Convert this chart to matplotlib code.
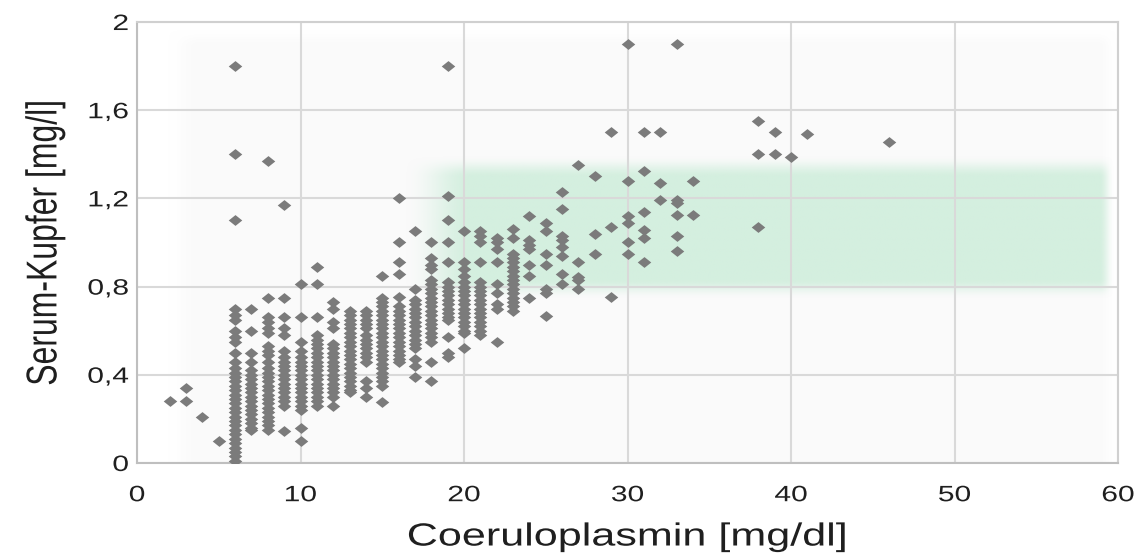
import numpy as np
import matplotlib
matplotlib.use("Agg")
import matplotlib.pyplot as plt
from matplotlib.patheffects import AbstractPathEffect
from matplotlib.transforms import Affine2D

plt.rcParams['font.family'] = ['Liberation Sans', 'DejaVu Sans']

# Serum-Kupfer [mg/l] values per Coeruloplasmin column [mg/dl]
y_at_2 = [0.28]
y_at_3 = [0.34, 0.28]
y_at_4 = [0.21]
y_at_5 = [0.10]
y_at_6 = [1.80, 1.40, 1.10, 0.70, 0.67, 0.65, 0.60, 0.57, 0.55, 0.50, 0.46,
          0.43, 0.41, 0.39, 0.37, 0.35, 0.33, 0.31, 0.29, 0.27, 0.25, 0.23,
          0.21, 0.19, 0.17, 0.15, 0.13, 0.11, 0.09, 0.07, 0.05, 0.03, 0.01]
y_at_7 = [0.70, 0.60, 0.50, 0.46, 0.42, 0.40, 0.38, 0.36, 0.34, 0.32, 0.30,
          0.28, 0.26, 0.24, 0.22, 0.20, 0.18, 0.16, 0.15]
y_at_8 = [1.37, 0.75, 0.66, 0.64, 0.61, 0.59, 0.53, 0.51, 0.49, 0.46, 0.43,
          0.41, 0.39, 0.37, 0.35, 0.33, 0.31, 0.29, 0.27, 0.25, 0.23, 0.21,
          0.19, 0.17, 0.15]
y_at_9 = [1.17, 0.75, 0.66, 0.61, 0.58, 0.51, 0.48, 0.46, 0.44, 0.42, 0.40,
          0.38, 0.36, 0.34, 0.32, 0.30, 0.28, 0.26, 0.145]
y_at_10 = [0.81, 0.66, 0.55, 0.51, 0.48, 0.46, 0.44, 0.42, 0.40, 0.38, 0.36,
           0.34, 0.32, 0.30, 0.28, 0.26, 0.24, 0.16, 0.10]
y_at_11 = [0.89, 0.81, 0.66, 0.58, 0.56, 0.54, 0.52, 0.50, 0.48, 0.46, 0.44,
           0.42, 0.40, 0.38, 0.36, 0.34, 0.32, 0.30, 0.28, 0.26]
y_at_12 = [0.73, 0.70, 0.64, 0.61, 0.54, 0.52, 0.50, 0.48, 0.46, 0.44, 0.42,
           0.40, 0.38, 0.36, 0.34, 0.32, 0.30, 0.26]
y_at_13 = [0.69, 0.67, 0.65, 0.63, 0.61, 0.59, 0.57, 0.55, 0.53, 0.51, 0.49,
           0.47, 0.45, 0.43, 0.41, 0.39, 0.37, 0.35, 0.33, 0.32]
y_at_14 = [0.69, 0.67, 0.65, 0.63, 0.61, 0.58, 0.56, 0.54, 0.52, 0.50, 0.48,
           0.46, 0.37, 0.34, 0.30]
y_at_15 = [0.85, 0.75, 0.73, 0.71, 0.69, 0.67, 0.65, 0.63, 0.61, 0.59, 0.57,
           0.55, 0.53, 0.51, 0.49, 0.47, 0.45, 0.43, 0.41, 0.39, 0.37, 0.35,
           0.275]
y_at_16 = [1.20, 1.00, 0.91, 0.855, 0.755, 0.71, 0.69, 0.67, 0.65, 0.63, 0.61,
           0.59, 0.57, 0.55, 0.53, 0.51, 0.49, 0.47, 0.46]
y_at_17 = [1.05, 0.79, 0.74, 0.72, 0.70, 0.68, 0.66, 0.64, 0.62, 0.60, 0.58,
           0.56, 0.54, 0.52, 0.47, 0.44, 0.39]
y_at_18 = [1.00, 0.93, 0.90, 0.88, 0.83, 0.81, 0.79, 0.77, 0.75, 0.73, 0.71,
           0.69, 0.67, 0.65, 0.63, 0.61, 0.59, 0.57, 0.55, 0.46, 0.37]
y_at_19 = [1.80, 1.21, 1.10, 1.00, 0.91, 0.82, 0.80, 0.78, 0.76, 0.74, 0.72,
           0.70, 0.68, 0.66, 0.65, 0.57, 0.50, 0.48]
y_at_20 = [1.05, 0.91, 0.88, 0.85, 0.82, 0.80, 0.78, 0.76, 0.74, 0.72, 0.70,
           0.68, 0.66, 0.64, 0.62, 0.60, 0.59, 0.52]
y_at_21 = [1.05, 1.03, 1.00, 0.91, 0.82, 0.80, 0.78, 0.76, 0.74, 0.72, 0.70,
           0.68, 0.66, 0.64, 0.62, 0.60, 0.58]
y_at_22 = [1.02, 1.00, 0.97, 0.91, 0.81, 0.77, 0.72, 0.70, 0.55]
y_at_23 = [1.06, 1.02, 0.95, 0.93, 0.91, 0.89, 0.87, 0.85, 0.83, 0.81, 0.79,
           0.77, 0.75, 0.73, 0.71, 0.69]
y_at_24 = [1.12, 1.01, 0.99, 0.97, 0.90, 0.85, 0.75]
y_at_25 = [1.09, 1.05, 0.95, 0.90, 0.79, 0.77, 0.665]
y_at_26 = [1.23, 1.15, 1.03, 1.01, 0.98, 0.94, 0.855, 0.81]
y_at_27 = [1.35, 0.91, 0.845, 0.83, 0.79]
y_at_28 = [1.30, 1.04, 0.95]
y_at_29 = [1.50, 1.07, 0.755]
y_at_30 = [1.90, 1.28, 1.12, 1.09, 1.00, 0.95]
y_at_31 = [1.50, 1.325, 1.14, 1.055, 1.02, 0.91]
y_at_32 = [1.50, 1.27, 1.195]
y_at_33 = [1.90, 1.195, 1.18, 1.125, 1.03, 0.96]
y_at_34 = [1.28, 1.125]
y_at_38 = [1.55, 1.40, 1.07]
y_at_39 = [1.50, 1.40]
y_at_40 = [1.39]
y_at_41 = [1.49]
y_at_46 = [1.455]

coerulo = [2, 3, 4, 5, 6, 7, 8, 9, 10, 11, 12, 13, 14, 15, 16, 17, 18, 19,
           20, 21, 22, 23, 24, 25, 26, 27, 28, 29, 30, 31, 32, 33, 34, 38,
           39, 40, 41, 46]
kupfer = [y_at_2, y_at_3, y_at_4, y_at_5, y_at_6, y_at_7, y_at_8, y_at_9,
          y_at_10, y_at_11, y_at_12, y_at_13, y_at_14, y_at_15, y_at_16,
          y_at_17, y_at_18, y_at_19, y_at_20, y_at_21, y_at_22, y_at_23,
          y_at_24, y_at_25, y_at_26, y_at_27, y_at_28, y_at_29, y_at_30,
          y_at_31, y_at_32, y_at_33, y_at_34, y_at_38, y_at_39, y_at_40,
          y_at_41, y_at_46]

y_ticks = [0, 0.4, 0.8, 1.2, 1.6, 2]
y_tick_labels = ['0', '0,4', '0,8', '1,2', '1,6', '2']
x_ticks = [0, 10, 20, 30, 40, 50, 60]

xs, ys = [], []
for cx, col in zip(coerulo, kupfer):
    xs += [cx] * len(col)
    ys += col


class StretchX(AbstractPathEffect):
    # widen glyphs horizontally (the source chart was stretched sideways)
    def __init__(self, k, anchor='center', rotated=False):
        super().__init__()
        self.k = k
        self.anchor = anchor
        self.rotated = rotated

    def draw_path(self, renderer, gc, tpath, affine, rgbFace=None):
        ext = tpath.get_extents()
        if self.rotated:
            c = (ext.y0 + ext.y1) / 2
            t = Affine2D().translate(0, -c).scale(1, self.k).translate(0, c)
        else:
            c = ext.x1 if self.anchor == 'right' else (ext.x0 + ext.x1) / 2
            t = Affine2D().translate(-c, 0).scale(self.k, 1).translate(c, 0)
        renderer.draw_path(gc, tpath, t + affine, rgbFace)


def smooth(t):
    t = np.clip(t, 0, 1)
    return t * t * (3 - 2 * t)


K = 1.35
txt_col = '#1f1f1f'

fig = plt.figure(figsize=(11.44, 5.56), dpi=100)
ax = fig.add_axes([0.1198, 0.1673, 0.8575, 0.7931])

# soft background boxes
gx = np.linspace(0, 60, 600)
gy = np.linspace(0, 2, 400)
GX, GY = np.meshgrid(gx, gy)

a_gray = (smooth((GX - 1.8) / 2.0) * smooth((60.0 - GX) / 1.2)
          * smooth((1.97 - GY) / 0.08))
img_gray = np.zeros(GX.shape + (4,))
img_gray[..., :3] = 0.982
img_gray[..., 3] = a_gray
ax.imshow(img_gray, extent=[0, 60, 0, 2], origin='lower', aspect='auto',
          zorder=0, interpolation='bilinear')

a_green = (smooth((GX - 16.3) / 4.2) * smooth((59.8 - GX) / 0.9)
           * smooth((GY - 0.745) / 0.09) * smooth((1.395 - GY) / 0.10))
img_green = np.zeros(GX.shape + (4,))
img_green[..., 0] = 212 / 255
img_green[..., 1] = 239 / 255
img_green[..., 2] = 223 / 255
img_green[..., 3] = a_green
ax.imshow(img_green, extent=[0, 60, 0, 2], origin='lower', aspect='auto',
          zorder=0.2, interpolation='bilinear')

diamond = [(0, 0.8), (1, 0), (0, -0.8), (-1, 0), (0, 0.8)]
ax.scatter(xs, ys, marker=diamond, s=95, color='#7b7b7b', linewidths=0,
           zorder=3)

ax.set_xlim(0, 60)
ax.set_ylim(0, 2)
ax.set_xticks(x_ticks)
ax.set_xticklabels([str(v) for v in x_ticks])
ax.set_yticks(y_ticks)
ax.set_yticklabels(y_tick_labels)
ax.tick_params(length=0, labelsize=16, colors=txt_col)
ax.tick_params(axis='x', pad=16)
ax.tick_params(axis='y', pad=6)
for lbl in ax.get_xticklabels():
    lbl.set_path_effects([StretchX(K)])
for lbl in ax.get_yticklabels():
    lbl.set_path_effects([StretchX(K, anchor='right')])

ax.set_axisbelow(True)
ax.grid(True, color='#d9d9d9', linewidth=1.5)
for s in ax.spines.values():
    s.set_color('#d0d0d0')
    s.set_linewidth(1.5)
ax.spines['left'].set_color('#bfbfbf')
ax.spines['bottom'].set_color('#bfbfbf')

ax.set_xlabel('Coeruloplasmin [mg/dl]', fontsize=23, color=txt_col)
ax.set_ylabel('Serum-Kupfer [mg/l]', fontsize=23, color=txt_col)
ax.xaxis.set_label_coords(0.5, -0.135)
ax.yaxis.set_label_coords(-0.078, 0.5)
ax.xaxis.label.set_path_effects([StretchX(K)])
ax.yaxis.label.set_path_effects([StretchX(K, rotated=True)])

fig.savefig('out.png', dpi=100, facecolor='white')
